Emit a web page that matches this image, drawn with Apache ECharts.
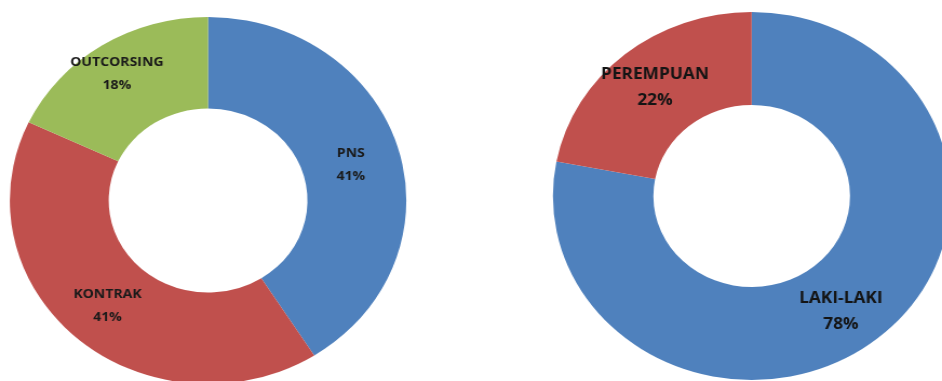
<!DOCTYPE html>
<html>
<head>
<meta charset="utf-8">
<script src="https://cdn.jsdelivr.net/npm/echarts@6/dist/echarts.min.js"></script>
<style>
html,body{margin:0;padding:0;background:#fff;overflow:hidden;width:942px;height:381px;}
#c{width:872px;height:381px;transform:scaleX(1.0803);transform-origin:0 0;}
</style>
</head>
<body>
<div id="c"></div>
<script>
var statusCategories = ['PNS', 'KONTRAK', 'OUTCORSING'];
var statusValues = [41, 41, 18];
var statusColors = ['#4F81BD', '#C0504D', '#9BBB59'];

var genderCategories = ['LAKI-LAKI', 'PEREMPUAN'];
var genderValues = [78, 22];
var genderColors = ['#4F81BD', '#C0504D'];

var labelShift = {
  'OUTCORSING': [-9, -8],
  'PNS': [-3, 4],
  'LAKI-LAKI': [-7, 7]
};

function build(cats, vals, cols) {
  return cats.map(function (c, i) {
    var d = { name: c, value: vals[i], itemStyle: { color: cols[i] } };
    if (labelShift[c]) d.label = { offset: labelShift[c] };
    return d;
  });
}

var chart = echarts.init(document.getElementById('c'), null, { renderer: 'canvas' });
chart.setOption({
  animation: false,
  series: [
    {
      type: 'pie',
      silent: true,
      center: [192.6, 200.5],
      radius: [92, 183.5],
      startAngle: 90,
      clockwise: true,
      itemStyle: { borderWidth: 0 },
      label: {
        show: true,
        position: 'inside',
        formatter: function (p) { return p.name + '\n' + p.value + '%'; },
        fontFamily: 'Open Sans',
        fontWeight: 'bold',
        fontSize: 13,
        lineHeight: 23,
        color: '#1a1a1a'
      },
      labelLine: { show: false },
      data: build(statusCategories, statusValues, statusColors)
    },
    {
      type: 'pie',
      silent: true,
      center: [695.8, 196],
      radius: [91, 184],
      startAngle: 90,
      clockwise: true,
      itemStyle: { borderWidth: 0 },
      label: {
        show: true,
        position: 'inside',
        formatter: function (p) { return p.name + '\n' + p.value + '%'; },
        fontFamily: 'Open Sans',
        fontWeight: 'bold',
        fontSize: 16,
        lineHeight: 26,
        color: '#141414'
      },
      labelLine: { show: false },
      data: build(genderCategories, genderValues, genderColors)
    }
  ]
});
</script>
</body>
</html>
